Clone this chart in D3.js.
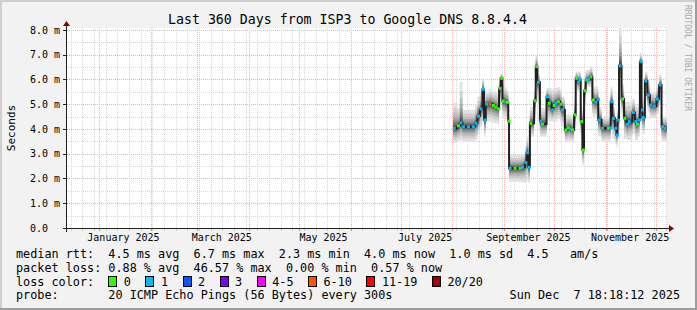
<!DOCTYPE html>
<html lang="en">
<head>
<meta charset="UTF-8">
<script src="https://cdn.jsdelivr.net/npm/d3@7"></script>
<title>SmokePing - ISP3 to Google DNS</title>
<style>
  body { margin: 0; background: #f2f2f2; }
  svg text { font-family: "DejaVu Sans Mono", monospace; white-space: pre; }
</style>
</head>
<body>
<script>
// ---- chart values ----
var title = "Last 360 Days from ISP3 to Google DNS 8.8.4.4";
var endStamp = "2025-12-07 18:18:12";
var spanDays = 360;

// start of each step (value holds until the next one)
var when = [
  "2025-08-01 12", "2025-08-04 00", "2025-08-05 12", "2025-08-07 00", "2025-08-14 12",
  "2025-08-16 00", "2025-08-17 12", "2025-08-19 00", "2025-08-20 00", "2025-08-21 00",
  "2025-08-23 00", "2025-08-25 00", "2025-08-26 12", "2025-08-28 00", "2025-08-29 00",
  "2025-08-30 00", "2025-08-31 00", "2025-09-01 12", "2025-09-02 12", "2025-09-03 12",
  "2025-09-04 00", "2025-09-07 00", "2025-09-11 12", "2025-09-13 12", "2025-09-14 12",
  "2025-09-15 12", "2025-09-16 12", "2025-09-19 00", "2025-09-20 00", "2025-09-21 00",
  "2025-09-22 12", "2025-09-23 12", "2025-09-26 12", "2025-09-27 12", "2025-09-29 12",
  "2025-09-30 12", "2025-10-01 12", "2025-10-03 00", "2025-10-04 12", "2025-10-05 12",
  "2025-10-07 12", "2025-10-09 00", "2025-10-10 12", "2025-10-11 12", "2025-10-13 00",
  "2025-10-14 00", "2025-10-15 00", "2025-10-16 00", "2025-10-17 00", "2025-10-18 00",
  "2025-10-19 00", "2025-10-20 00", "2025-10-21 00", "2025-10-22 12", "2025-10-24 00",
  "2025-10-25 12", "2025-10-27 00", "2025-10-27 12", "2025-10-29 12", "2025-11-02 00",
  "2025-11-03 12", "2025-11-04 00", "2025-11-05 00", "2025-11-06 12", "2025-11-07 12",
  "2025-11-08 00", "2025-11-09 00", "2025-11-10 12", "2025-11-12 00", "2025-11-13 12",
  "2025-11-14 12", "2025-11-17 00", "2025-11-18 12", "2025-11-19 12", "2025-11-20 12",
  "2025-11-21 12", "2025-11-22 12", "2025-11-23 00", "2025-11-24 12", "2025-11-26 00",
  "2025-11-27 12", "2025-11-29 12", "2025-12-01 12", "2025-12-03 00", "2025-12-04 12",
  "2025-12-06 00"
];

// median rtt in ms
var median = [
  4.03, 4.13, 4.25, 4.09, 4.23, 4.52, 4.81, 5.60, 4.36, 5.00,
  5.00, 4.95, 4.88, 4.81, 5.64, 6.05, 5.13, 5.08, 5.08, 4.32,
  2.41, 2.41, 2.45, 2.64, 3.04, 2.45, 4.23, 5.14, 6.52, 5.89,
  4.32, 4.20, 5.30, 5.04, 4.77, 4.95, 5.04, 5.10, 5.00, 4.77,
  3.96, 4.05, 4.00, 3.96, 4.57, 6.05, 5.90, 6.00, 4.30, 3.15,
  5.55, 5.98, 6.00, 6.11, 5.17, 5.08, 5.20, 4.36, 4.03, 4.03,
  4.05, 5.10, 4.43, 4.03, 3.76, 4.36, 6.55, 5.21, 4.43, 4.19,
  4.30, 4.67, 4.30, 4.19, 4.36, 6.72, 4.77, 4.46, 5.94, 5.37,
  4.97, 4.93, 5.21, 5.78, 4.09, 4.03
];

// fastest and slowest ping of the step (edges of the smoke), ms
var low = [
  3.43, 3.50, 3.55, 3.49, 3.55, 3.80, 4.10, 4.60, 3.70, 4.30,
  4.30, 4.24, 4.24, 4.20, 4.80, 5.30, 4.50, 4.40, 4.40, 3.70,
  1.87, 1.87, 1.85, 1.82, 1.90, 1.82, 3.69, 4.30, 5.60, 5.00,
  3.69, 3.69, 4.40, 4.30, 4.30, 4.30, 4.30, 4.40, 4.30, 4.10,
  3.49, 3.50, 3.49, 3.49, 3.90, 5.58, 5.50, 5.58, 3.60, 2.55,
  4.90, 5.70, 5.70, 5.70, 4.50, 4.50, 4.50, 3.70, 3.49, 3.49,
  3.50, 4.00, 3.60, 3.40, 3.22, 3.60, 5.50, 4.50, 3.60, 3.56,
  3.56, 3.80, 3.56, 3.56, 3.70, 5.50, 4.00, 3.80, 5.20, 4.70,
  4.44, 4.44, 4.60, 5.00, 3.49, 3.49
];
var high = [
  5.05, 4.85, 5.90, 4.77, 4.95, 5.30, 5.50, 6.06, 5.00, 5.50,
  5.60, 5.50, 5.50, 5.40, 6.10, 6.26, 5.80, 5.70, 5.60, 5.00,
  2.95, 2.95, 3.00, 3.30, 3.69, 3.20, 4.90, 5.60, 7.00, 6.20,
  4.85, 4.85, 5.66, 5.66, 5.60, 5.66, 5.66, 5.70, 5.60, 5.30,
  4.57, 4.60, 4.57, 4.50, 5.20, 6.32, 6.30, 6.32, 5.00, 4.00,
  6.00, 6.38, 6.38, 6.52, 5.71, 5.71, 5.71, 4.90, 4.50, 4.50,
  4.55, 5.71, 4.90, 4.50, 4.30, 4.90, 8.07, 5.80, 5.10, 5.10,
  5.10, 5.20, 5.00, 4.90, 5.00, 7.07, 5.50, 5.20, 6.32, 5.90,
  5.50, 5.50, 5.80, 6.18, 4.50, 4.50
];

// loss class of the step, index into lossLabels / lossColors
var lossIdx = [
  1, 0, 1, 1, 1, 1, 1, 1, 1, 1,
  5, 0, 0, 0, 0, 0, 0, 1, 0, 0,
  1, 0, 1, 1, 1, 1, 0, 0, 0, 1,
  1, 0, 1, 0, 1, 0, 1, 0, 0, 1,
  0, 0, 1, 0, 0, 0, 1, 1, 0, 0,
  0, 0, 1, 0, 0, 1, 1, 1, 1, 0,
  1, 1, 1, 1, 1, 1, 1, 0, 0, 1,
  1, 1, 1, 0, 1, 1, 1, 1, 1, 1,
  1, 1, 1, 1, 1, 1
];

var lossLabels = ["0", "1", "2", "3", "4-5", "6-10", "11-19", "20/20"];
var lossColors = ["#26ff00", "#00b8ff", "#0059ff", "#7e00ff", "#ff00ff", "#ff5500", "#ff0000", "#a10000"];

var yTicks = [0, 1, 2, 3, 4, 5, 6, 7, 8];
var yTickLabels = ["0.0", "1.0 m", "2.0 m", "3.0 m", "4.0 m", "5.0 m", "6.0 m", "7.0 m", "8.0 m"];
var monthTicks = ["2025-01-01", "2025-03-01", "2025-05-01", "2025-07-01", "2025-09-01", "2025-11-01"];
var monthLabels = ["January 2025", "March 2025", "May 2025", "July 2025", "September 2025", "November 2025"];

var legendLines = [
  "median rtt:  4.5 ms avg  6.7 ms max  2.3 ms min  4.0 ms now  1.0 ms sd  4.5   am/s",
  "packet loss: 0.88 % avg  46.57 % max  0.00 % min  0.57 % now"
];
var probeText = "probe:       20 ICMP Echo Pings (56 Bytes) every 300s";
var stampText = "Sun Dec  7 18:18:12 2025";

// ---- layout ----
var W = 697, H = 310;
var plotLeft = 67, plotTop = 28, plotW = 600, plotH = 200;
var plotBottom = plotTop + plotH;

var parseStep = d3.timeParse("%Y-%m-%d %H");
var parseDay = d3.timeParse("%Y-%m-%d");
var end = d3.timeParse("%Y-%m-%d %H:%M:%S")(endStamp);
var start = d3.timeDay.offset(end, -spanDays);

var x = d3.scaleTime().domain([start, end]).range([plotLeft, plotLeft + plotW]);
var y = d3.scaleLinear().domain([0, 8.08]).range([plotBottom, plotTop]);

var rows = when.map(function (w, i) {
  return { t: parseStep(w), m: median[i], lo: low[i], hi: high[i], loss: lossIdx[i] };
});
// carry the last step to the right edge
var last = rows[rows.length - 1];
rows.push({ t: end, m: last.m, lo: last.lo, hi: last.hi, loss: last.loss });

var svg = d3.select("body").append("svg")
  .attr("width", W).attr("height", H);

// background and 3d frame
svg.append("rect").attr("width", W).attr("height", H).attr("fill", "#f2f2f2");
svg.append("path").attr("d", "M0,0H697V2H2V310H0Z").attr("fill", "#cfcfcf");
svg.append("path").attr("d", "M697,0V310H0V308H695V0Z").attr("fill", "#9e9e9e");

// canvas
svg.append("rect")
  .attr("x", plotLeft).attr("y", plotTop).attr("width", plotW).attr("height", plotH)
  .attr("fill", "#ffffff");

// grid
var grid = svg.append("g").attr("shape-rendering", "crispEdges")
  .attr("stroke-width", 1).attr("stroke-dasharray", "1,1");

var weeks = d3.timeSunday.range(start, end);
var months = d3.timeMonth.range(start, end);

grid.selectAll(".vmin").data(weeks).enter().append("line")
  .attr("x1", function (d) { return Math.round(x(d)) + 0.5; })
  .attr("x2", function (d) { return Math.round(x(d)) + 0.5; })
  .attr("y1", plotTop).attr("y2", plotBottom)
  .attr("stroke", "#d6d6d6");

grid.selectAll(".hmin").data(yTicks.slice(0, -1)).enter().append("line")
  .attr("x1", plotLeft).attr("x2", plotLeft + plotW)
  .attr("y1", function (d) { return Math.round(y(d + 0.5)) + 0.5; })
  .attr("y2", function (d) { return Math.round(y(d + 0.5)) + 0.5; })
  .attr("stroke", "#d6d6d6");

grid.selectAll(".vmaj").data(months).enter().append("line")
  .attr("x1", function (d) { return Math.round(x(d)) + 0.5; })
  .attr("x2", function (d) { return Math.round(x(d)) + 0.5; })
  .attr("y1", plotTop).attr("y2", plotBottom)
  .attr("stroke", "#f3b0b0");

grid.selectAll(".hmaj").data(yTicks.slice(1)).enter().append("line")
  .attr("x1", plotLeft).attr("x2", plotLeft + plotW)
  .attr("y1", function (d) { return Math.round(y(d)) + 0.5; })
  .attr("y2", function (d) { return Math.round(y(d)) + 0.5; })
  .attr("stroke", "#f3b0b0");

// smoke: nested bands from the outer pings in towards the median
var shares = [1, 0.78, 0.6, 0.46, 0.35, 0.26, 0.19, 0.13, 0.08, 0.04];
var smoke = svg.append("g");
shares.forEach(function (f, k) {
  var g = 225 - k * 19;
  var band = d3.area()
    .curve(d3.curveStepAfter)
    .x(function (d) { return x(d.t); })
    .y0(function (d) { return y(d.m - (d.m - d.lo) * f); })
    .y1(function (d) { return y(d.m + (d.hi - d.m) * f); });
  smoke.append("path")
    .datum(rows)
    .attr("d", band)
    .attr("fill", d3.rgb(g, g, g));
});

// median line
var medianLine = d3.line()
  .curve(d3.curveStepAfter)
  .x(function (d) { return x(d.t); })
  .y(function (d) { return y(d.m); });

svg.append("path")
  .datum(rows)
  .attr("d", medianLine)
  .attr("fill", "none")
  .attr("stroke", "#202020")
  .attr("stroke-width", 2);

// loss colour marks on the median
var marks = [];
for (var i = 0; i < rows.length - 1; i++) {
  var x0 = x(rows[i].t), x1 = x(rows[i + 1].t);
  for (var xx = x0 + 1; xx < x1 || xx === x0 + 1; xx += 5) {
    marks.push({ x: xx, m: rows[i].m, loss: rows[i].loss });
  }
}
svg.append("g").selectAll("rect").data(marks).enter().append("rect")
  .attr("x", function (d) { return d.x - 1.5; })
  .attr("y", function (d) { return y(d.m) - 1.5; })
  .attr("width", 3).attr("height", 3)
  .attr("fill", function (d) { return lossColors[d.loss]; });

// axes
var axis = svg.append("g").attr("shape-rendering", "crispEdges");
axis.append("line")
  .attr("x1", plotLeft - 4).attr("x2", plotLeft + plotW + 4)
  .attr("y1", plotBottom + 0.5).attr("y2", plotBottom + 0.5)
  .attr("stroke", "#202020");
axis.append("line")
  .attr("x1", plotLeft - 0.5).attr("x2", plotLeft - 0.5)
  .attr("y1", plotBottom + 4).attr("y2", plotTop - 4)
  .attr("stroke", "#202020");
axis.selectAll(".ytick").data(yTicks).enter().append("line")
  .attr("x1", plotLeft - 4).attr("x2", plotLeft)
  .attr("y1", function (d) { return Math.round(y(d)) + 0.5; })
  .attr("y2", function (d) { return Math.round(y(d)) + 0.5; })
  .attr("stroke", "#202020");
axis.selectAll(".wtick").data(weeks).enter().append("line")
  .attr("x1", function (d) { return Math.round(x(d)) + 0.5; })
  .attr("x2", function (d) { return Math.round(x(d)) + 0.5; })
  .attr("y1", plotBottom + 1).attr("y2", plotBottom + 3)
  .attr("stroke", "#cccccc");
axis.selectAll(".mtick").data(months).enter().append("line")
  .attr("x1", function (d) { return Math.round(x(d)) + 0.5; })
  .attr("x2", function (d) { return Math.round(x(d)) + 0.5; })
  .attr("y1", plotBottom + 1).attr("y2", plotBottom + 3)
  .attr("stroke", "#f08080");

// arrows
svg.append("path")
  .attr("d", "M" + (plotLeft + plotW + 2) + "," + (plotBottom - 3) + "L" + (plotLeft + plotW + 2) + "," + (plotBottom + 4) +
    "L" + (plotLeft + plotW + 7) + "," + (plotBottom + 0.5) + "Z")
  .attr("fill", "#8b0000");
svg.append("path")
  .attr("d", "M" + (plotLeft - 4) + "," + (plotTop - 2) + "L" + (plotLeft + 3) + "," + (plotTop - 2) +
    "L" + (plotLeft - 0.5) + "," + (plotTop - 7) + "Z")
  .attr("fill", "#8b0000");

// y tick labels
svg.selectAll(".ylab").data(yTicks).enter().append("text")
  .attr("x", 30)
  .attr("y", function (d) { return y(d) + 3.6; })
  .attr("font-size", "10px")
  .text(function (d, i) { return yTickLabels[i]; });

// month labels
svg.selectAll(".xlab").data(monthTicks).enter().append("text")
  .attr("x", function (d) { return x(parseDay(d)) + 24.4; })
  .attr("y", 240.5)
  .attr("text-anchor", "middle")
  .attr("font-size", "10px")
  .text(function (d, i) { return monthLabels[i]; });

// title and side texts
svg.append("text")
  .attr("x", 347.5).attr("y", 23.5)
  .attr("text-anchor", "middle")
  .attr("font-size", "13.25px")
  .text(title);

svg.append("text")
  .attr("transform", "translate(15,128) rotate(-90)")
  .attr("text-anchor", "middle")
  .attr("font-size", "11px")
  .text("Seconds");

svg.append("text")
  .attr("transform", "translate(684.5,5) rotate(90)")
  .attr("font-size", "8px")
  .attr("fill", "#a8a8a8")
  .text("RRDTOOL / TOBI OETIKER");

// legend
var lineY = [258.3, 272, 285.7, 299.4];
svg.selectAll(".leg").data(legendLines).enter().append("text")
  .attr("x", 16)
  .attr("y", function (d, i) { return lineY[i]; })
  .attr("font-size", "11.8px")
  .text(function (d) { return d; });

svg.append("text")
  .attr("x", 16).attr("y", lineY[2])
  .attr("font-size", "11.8px")
  .text("loss color:");

var keyX = [];
var kx = 108.3;
lossLabels.forEach(function (l) { keyX.push(kx); kx += 30 + 7.1 * l.length; });

var keys = svg.selectAll(".key").data(lossLabels).enter().append("g");
keys.append("rect")
  .attr("x", function (d, i) { return Math.round(keyX[i]) + 0.5; })
  .attr("y", 276.5)
  .attr("width", 8).attr("height", 10)
  .attr("fill", function (d, i) { return lossColors[i]; })
  .attr("stroke", "#000")
  .attr("shape-rendering", "crispEdges");
keys.append("text")
  .attr("x", function (d, i) { return keyX[i] + 15.5; })
  .attr("y", lineY[2])
  .attr("font-size", "11.8px")
  .text(function (d) { return d; });

svg.append("text")
  .attr("x", 16).attr("y", lineY[3])
  .attr("font-size", "11.8px")
  .text(probeText);

svg.append("text")
  .attr("x", 680).attr("y", lineY[3])
  .attr("text-anchor", "end")
  .attr("font-size", "11.8px")
  .text(stampText);
</script>
</body>
</html>
